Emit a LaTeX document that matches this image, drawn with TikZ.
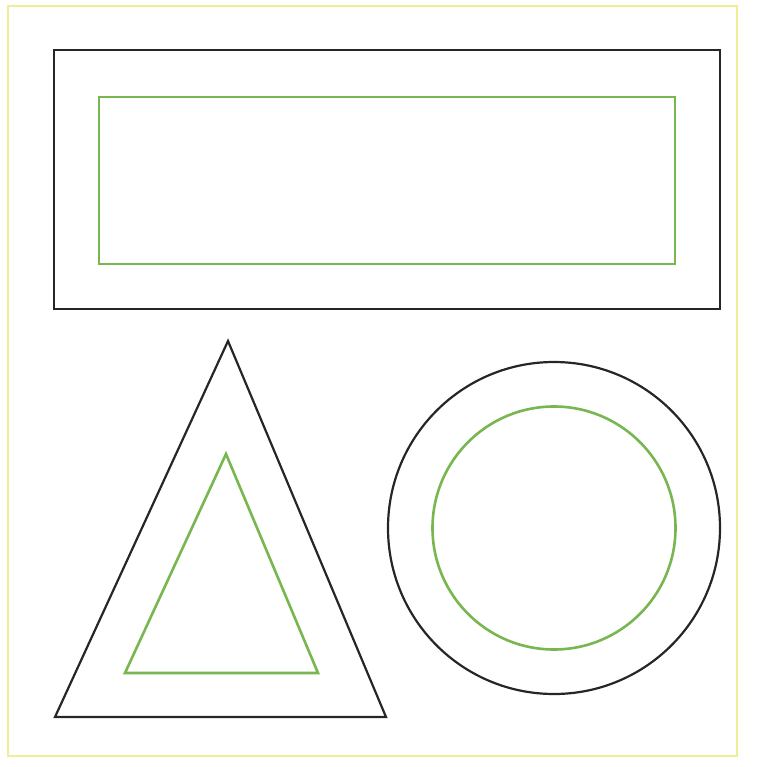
\documentclass[tikz,border=0pt]{standalone}
\definecolor{shapegreen}{RGB}{120,182,80}
\definecolor{frameyellow}{RGB}{238,238,150}
\begin{document}
\begin{tikzpicture}[x=1pt,y=-1pt,
  outer/.style={draw=black!85,line width=2.2pt},
  inner/.style={draw=shapegreen,line width=2.6pt},
  frame/.style={draw=frameyellow,line width=2pt}]
\useasboundingbox (0,0) rectangle (759,767);
\draw[frame] (8,6) rectangle (737,756);
\draw[outer] (54,50) rectangle (720,309);
\draw[inner] (99,97) rectangle (675,264);
\draw[outer] (228,341) -- (386,717) -- (55,717) -- cycle;
\draw[inner] (226,454) -- (318,673) -- (125,673) -- cycle;
\draw[outer] (554,528) circle[radius=166];
\draw[inner] (554,528) circle[radius=121.5];
\end{tikzpicture}
\end{document}
